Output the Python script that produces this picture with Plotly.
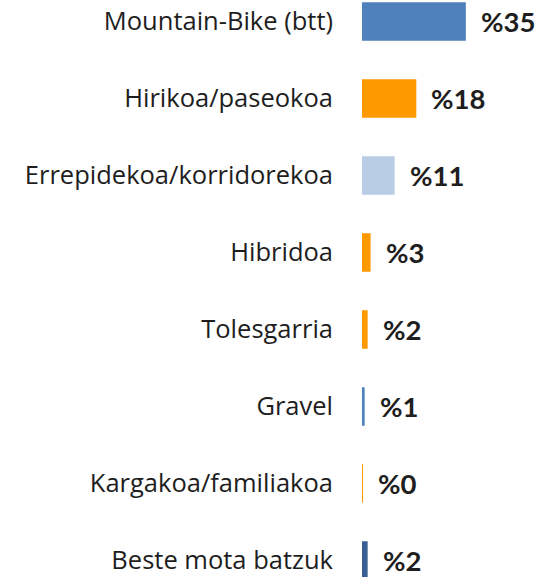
import plotly.graph_objects as go

categories = ["Mountain-Bike (btt)", "Hirikoa/paseokoa", "Errepidekoa/korridorekoa",
              "Hibridoa", "Tolesgarria", "Gravel", "Kargakoa/familiakoa", "Beste mota batzuk"]
values = [35, 18.3, 11, 2.9, 1.9, 0.9, 0.3, 1.9]
value_labels = ["%35", "%18", "%11", "%3", "%2", "%1", "%0", "%2"]
colors = ["#4f81bd", "#ff9900", "#b9cde5", "#ff9900", "#ff9900", "#4f81bd", "#ff9900", "#3a5f95"]

fig = go.Figure(go.Bar(
    x=values, y=categories, orientation="h",
    marker=dict(color=colors, line=dict(width=0)),
    width=0.5, hoverinfo="skip",
))

for c, v, t in zip(categories, values, value_labels):
    fig.add_annotation(x=v, y=c, text="<b>" + t + "</b>", showarrow=False,
                       xanchor="left", yanchor="middle", xshift=13,
                       font=dict(family="Lato", size=27.5, color="#1e1e1e"))

fig.update_layout(
    width=543, height=577,
    margin=dict(l=362, r=0, t=0, b=0),
    paper_bgcolor="white", plot_bgcolor="white",
    showlegend=False,
    xaxis=dict(range=[0, 61], visible=False, showgrid=False, zeroline=False),
    yaxis=dict(type="category", categoryarray=categories, range=[7.214, -0.279],
               showgrid=False, zeroline=False, showline=False, ticks="",
               ticklabelstandoff=28, automargin=False,
               tickfont=dict(family="Open Sans", size=25.5, color="#1e1e1e")),
)

fig.write_html("out.html", config={"displayModeBar": False},
               post_script="document.body.style.margin='0';document.body.style.padding='0';")
